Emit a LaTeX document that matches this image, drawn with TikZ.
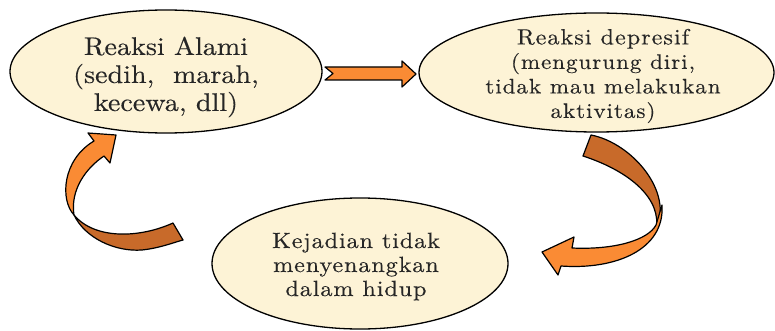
\documentclass[tikz,border=0pt]{standalone}
\usepackage{fontspec}
\usetikzlibrary{shapes.geometric}
\newfontfamily\lblfont{lmroman10-regular.otf}[FakeStretch=1.1, FakeBold=0.3]
\newfontfamily\lblfontsp{lmroman10-regular.otf}[FakeStretch=1.1, FakeBold=0.3, LetterSpace=4.5]
\newfontfamily\lblfontkj{lmroman10-regular.otf}[FakeStretch=1.1, FakeBold=0.3, LetterSpace=4]
\definecolor{cream}{RGB}{253,243,214}
\definecolor{lightor}{RGB}{250,139,52}
\definecolor{darkor}{RGB}{200,106,42}
\begin{document}
\begin{tikzpicture}[x=1pt,y=-1pt,
  bubble/.style={ellipse, draw=black, line width=1.3pt, fill=cream, inner sep=0pt, align=center},
  label/.style={align=center, text=black!85, inner sep=0pt},
  frontband/.style={draw=black, line width=1.2pt, fill=lightor, line join=round},
  backband/.style={draw=black, line width=1.2pt, fill=darkor, line join=round}]
\useasboundingbox (0,0) rectangle (775,331);
% ellipses
\node[bubble, minimum width=312pt, minimum height=123pt] (alami) at (166,71.5) {};
\node[label, font=\lblfont\fontsize{25.5}{28}\selectfont] (talami) at (166,77) {Reaksi Alami\\(sedih, \ marah,\\kecewa, dll)};
\node[bubble, minimum width=355pt, minimum height=119pt] (depresif) at (596.5,72.5) {};
\node[label, font=\lblfontsp\fontsize{21}{24.5}\selectfont] (tdepresif) at (603,76) {{\fontsize{22}{24.5}\selectfont Reaksi depresif}\\(mengurung diri,\\tidak mau melakukan\\aktivitas)};
\node[bubble, minimum width=296pt, minimum height=131pt] (kejadian) at (360,263.5) {};
\node[label, font=\lblfontkj\fontsize{22}{24}\selectfont] (tkejadian) at (356,266.5) {Kejadian tidak\\menyenangkan\\dalam hidup};
% straight arrow
\draw[frontband] (325,67) -- (333,73.5) -- (325,80) -- (402,80) -- (402,87) -- (416,74) -- (402,61) -- (402,67) -- cycle;
% left curved arrow
\draw[backband] (74,215) .. controls (85,238) and (115,252) .. (142,250)
  .. controls (160,248) and (172,243) .. (183,240) -- (173,223)
  .. controls (140,238) and (95,240) .. (74,215) -- cycle;
\draw[frontband] (74,215) .. controls (60,200) and (62,160) .. (94,141)
  -- (88,133) -- (116,135) -- (110,163) -- (104,156)
  .. controls (86,168) and (70,190) .. (74,215) -- cycle;
% right curved arrow
\draw[backband] (591,135) .. controls (632,143) and (674,192) .. (656,230)
  .. controls (662,200) and (632,172) .. (583,156) -- cycle;
\draw[frontband] (656,225) .. controls (648,240) and (615,250) .. (572,248)
  -- (574,237) -- (542,252) -- (558,275) -- (561,266)
  .. controls (615,270) and (665,250) .. (662,205) -- cycle;
\end{tikzpicture}
\end{document}
